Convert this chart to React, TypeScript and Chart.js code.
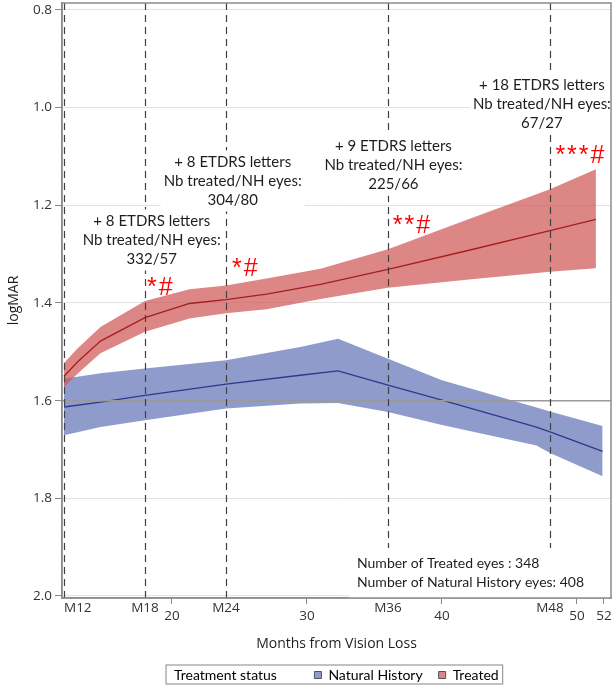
import React, { useEffect, useRef } from 'react';
import Chart from 'chart.js/auto';

// logMAR over months from vision loss
const TREATED_MONTHS = [12, 13, 14.7, 18, 21.3, 24, 27, 31, 36, 42, 48, 51.4];
const TREATED_MEAN = [1.55, 1.521, 1.478, 1.43, 1.401, 1.393, 1.382, 1.362, 1.331, 1.292, 1.252, 1.229];
const TREATED_CI_LOW = [1.523, 1.493, 1.449, 1.396, 1.372, 1.364, 1.35, 1.33, 1.29, 1.228, 1.167, 1.126];
const TREATED_CI_HIGH = [1.572, 1.545, 1.503, 1.459, 1.432, 1.421, 1.413, 1.392, 1.369, 1.352, 1.336, 1.329];

const NH_MONTHS = [12, 14.7, 18, 24, 29.5, 32.3, 36, 40, 47, 48, 51.9];
const NH_MEAN = [1.613, 1.603, 1.589, 1.566, 1.548, 1.539, 1.568, 1.599, 1.654, 1.664, 1.704];
const NH_CI_LOW = [1.555, 1.544, 1.534, 1.517, 1.49, 1.473, 1.514, 1.558, 1.614, 1.622, 1.652];
const NH_CI_HIGH = [1.671, 1.654, 1.64, 1.616, 1.606, 1.605, 1.623, 1.65, 1.692, 1.707, 1.755];

const VISIT_MONTHS = [12, 18, 24, 36, 48];
const VISIT_LABELS = ['M12', 'M18', 'M24', 'M36', 'M48'];
const X_TICKS = [20, 30, 40, 50, 52];
const Y_TICKS = [0.8, 1.0, 1.2, 1.4, 1.6, 1.8, 2.0];
const REFERENCE_LOGMAR = 1.6;

const LETTER_GAINS = ['+ 8 ETDRS letters', '+ 8 ETDRS letters', '+ 9 ETDRS letters', '+ 18 ETDRS letters'];
const EYE_COUNTS = ['332/57', '304/80', '225/66', '67/27'];
const SIGNIFICANCE = ['*#', '*#', '**#', '***#'];
const TOTAL_LINES = ['Number of Treated eyes : 348', 'Number of Natural History eyes: 408'];
const SERIES_NAMES = ['Natural History', 'Treated'];
const LEGEND_TITLE = 'Treatment status';

// where the notes sit, in axis units
const NOTE_ANCHORS = [
  { month: 18.5, logmar: 1.271 },
  { month: 24.5, logmar: 1.15 },
  { month: 36.4, logmar: 1.118 },
  { month: 47.4, logmar: 0.993 },
];
const STAR_ANCHORS = [
  { month: 18.15, logmar: 1.384 },
  { month: 24.44, logmar: 1.345 },
  { month: 36.35, logmar: 1.257 },
  { month: 48.4, logmar: 1.113 },
];

const NH_FILL = 'rgba(104, 122, 186, 0.75)';
const NH_LINE = '#2b3b8c';
const TREATED_FILL = 'rgba(206, 82, 82, 0.7)';
const TREATED_LINE = '#a31f1f';
const AXIS_FONT = '"Open Sans"';
const LEGEND_BOX = 7;
const LEGEND_FONT = 14;

const pts = (xs: number[], ys: number[]) => xs.map((x, i) => ({ x, y: ys[i] }));

const overlay = {
  id: 'overlay',
  afterDatasetsDraw(chart: any) {
    const { ctx, chartArea: area, scales } = chart;
    const xs = scales.x;
    const ys = scales.y;

    ctx.save();
    ctx.beginPath();
    ctx.rect(area.left, area.top, area.width, area.height);
    ctx.clip();

    const ry = ys.getPixelForValue(REFERENCE_LOGMAR);
    ctx.strokeStyle = '#9a9a9a';
    ctx.lineWidth = 1.5;
    ctx.beginPath();
    ctx.moveTo(area.left, ry);
    ctx.lineTo(area.right, ry);
    ctx.stroke();

    ctx.strokeStyle = '#404040';
    ctx.lineWidth = 1.2;
    ctx.setLineDash([7, 5]);
    VISIT_MONTHS.forEach((m) => {
      const px = Math.round(xs.getPixelForValue(m)) + 0.5;
      ctx.beginPath();
      ctx.moveTo(px, area.top);
      ctx.lineTo(px, area.bottom);
      ctx.stroke();
    });
    ctx.setLineDash([]);

    // notes above each visit, on a white patch
    ctx.font = '15px Lato';
    ctx.textAlign = 'center';
    ctx.textBaseline = 'middle';
    const lh = 19;
    NOTE_ANCHORS.forEach((a, i) => {
      const lines = [LETTER_GAINS[i], 'Nb treated/NH eyes:', EYE_COUNTS[i]];
      const cx = xs.getPixelForValue(a.month);
      const cy = ys.getPixelForValue(a.logmar);
      const w = Math.max(...lines.map((t) => ctx.measureText(t).width)) + 6;
      ctx.fillStyle = '#fff';
      ctx.fillRect(cx - w / 2, cy - lh * 1.5 - 2, w, lh * 3 + 4);
      ctx.fillStyle = '#1e1e1e';
      lines.forEach((t, k) => ctx.fillText(t, cx, cy + (k - 1) * lh));
    });

    ctx.font = '25px "Liberation Sans"';
    ctx.textAlign = 'left';
    ctx.textBaseline = 'alphabetic';
    ctx.fillStyle = '#ff0000';
    ctx.letterSpacing = '2px';
    STAR_ANCHORS.forEach((a, i) => {
      ctx.fillText(SIGNIFICANCE[i], xs.getPixelForValue(a.month), ys.getPixelForValue(a.logmar));
    });
    ctx.letterSpacing = '0px';

    // eye totals, bottom right
    ctx.font = '14px Lato';
    ctx.fillStyle = '#fff';
    ctx.fillRect(area.right - 262, area.bottom - 50, 262, 50);
    ctx.fillStyle = '#1e1e1e';
    ctx.textBaseline = 'middle';
    TOTAL_LINES.forEach((t, k) => ctx.fillText(t, area.right - 254, area.bottom - 35 + k * 19));
    ctx.restore();

    ctx.save();
    ctx.strokeStyle = '#8c8c8c';
    ctx.lineWidth = 1.5;
    ctx.strokeRect(area.left, area.top, area.width, area.height);
    ctx.font = `13.5px ${AXIS_FONT}`;
    ctx.fillStyle = '#333';
    ctx.textBaseline = 'middle';
    VISIT_MONTHS.forEach((m, i) => {
      const px = xs.getPixelForValue(m);
      const w = ctx.measureText(VISIT_LABELS[i]).width;
      ctx.textAlign = px - w / 2 < area.left ? 'left' : 'center';
      ctx.fillText(VISIT_LABELS[i], px, area.bottom + 10);
    });
    ctx.restore();
  },
  afterDraw(chart: any) {
    const boxes = chart.legend?.legendHitBoxes;
    if (!boxes || !boxes.length) return;
    const { ctx } = chart;
    const first = boxes[0];
    const last = boxes[boxes.length - 1];
    const textOffset = LEGEND_BOX + LEGEND_FONT / 2;
    ctx.save();
    ctx.font = `${LEGEND_FONT}px Lato`;
    const left = first.left + textOffset - 8;
    const right = last.left + textOffset + ctx.measureText(SERIES_NAMES[1]).width + 4;
    const cy = first.top + first.height / 2;
    ctx.strokeStyle = '#9a9a9a';
    ctx.lineWidth = 1.2;
    ctx.strokeRect(left, cy - 10, right - left, 19);
    ctx.restore();
  },
};

const App: React.FC = () => {
  const canvasRef = useRef<HTMLCanvasElement>(null);
  const chartInstance = useRef<Chart | null>(null);

  useEffect(() => {
    if (!canvasRef.current) return;
    if (chartInstance.current) chartInstance.current.destroy();

    const band = { borderWidth: 0, pointRadius: 0, tension: 0 };
    chartInstance.current = new Chart(canvasRef.current, {
      type: 'line',
      data: {
        datasets: [
          { label: 'Treated', data: pts(TREATED_MONTHS, TREATED_MEAN), borderColor: TREATED_LINE, borderWidth: 1.3, pointRadius: 0, fill: false },
          { label: 'Natural History', data: pts(NH_MONTHS, NH_MEAN), borderColor: NH_LINE, borderWidth: 1.3, pointRadius: 0, fill: false },
          { label: 'Treated CI low', data: pts(TREATED_MONTHS, TREATED_CI_LOW), backgroundColor: TREATED_FILL, fill: '+1', ...band },
          { label: 'Treated CI high', data: pts(TREATED_MONTHS, TREATED_CI_HIGH), fill: false, ...band },
          { label: 'NH CI low', data: pts(NH_MONTHS, NH_CI_LOW), backgroundColor: NH_FILL, fill: '+1', ...band },
          { label: 'NH CI high', data: pts(NH_MONTHS, NH_CI_HIGH), fill: false, ...band },
        ],
      },
      options: {
        responsive: true,
        maintainAspectRatio: false,
        animation: false,
        layout: { padding: { left: 0, right: 2, top: 3, bottom: -5 } },
        plugins: {
          tooltip: { enabled: false },
          legend: {
            position: 'bottom',
            fullSize: false,
            labels: {
              boxWidth: LEGEND_BOX,
              boxHeight: LEGEND_BOX,
              padding: 16,
              color: '#1e1e1e',
              font: { family: 'Lato', size: LEGEND_FONT },
              generateLabels: () => [
                { text: LEGEND_TITLE + '      ', fillStyle: 'rgba(0,0,0,0)', strokeStyle: 'rgba(0,0,0,0)', lineWidth: 0, hidden: false },
                { text: SERIES_NAMES[0], fillStyle: NH_FILL, strokeStyle: '#555', lineWidth: 1, hidden: false },
                { text: SERIES_NAMES[1] + '    ', fillStyle: TREATED_FILL, strokeStyle: '#555', lineWidth: 1, hidden: false },
              ],
            },
          },
        },
        scales: {
          x: {
            type: 'linear',
            min: 11.852,
            max: 52.52,
            afterBuildTicks: (s: any) => { s.ticks = X_TICKS.map((v) => ({ value: v })); },
            afterFit: (s: any) => { s.height = 54; s.paddingLeft = 0; s.paddingRight = 0; },
            grid: { drawOnChartArea: false, drawTicks: true, tickLength: 6, tickColor: '#888' },
            border: { color: '#8c8c8c', width: 1.5 },
            ticks: { color: '#333', padding: 4, maxRotation: 0, font: { family: AXIS_FONT, size: 13.5 } },
            title: { display: true, text: 'Months from Vision Loss', color: '#1e1e1e', padding: { top: 0, bottom: 0 }, font: { family: AXIS_FONT, size: 14 } },
          },
          y: {
            type: 'linear',
            reverse: true,
            min: 0.7857,
            max: 2.0041,
            afterBuildTicks: (s: any) => { s.ticks = Y_TICKS.map((v) => ({ value: v })); },
            afterFit: (s: any) => { s.width = 62; s.paddingTop = 0; s.paddingBottom = 0; },
            grid: { color: '#e2e2e2', lineWidth: 1, tickLength: 7, tickColor: '#888' },
            border: { color: '#8c8c8c', width: 1.5 },
            ticks: { color: '#333', padding: 3, callback: (v: any) => Number(v).toFixed(1), font: { family: AXIS_FONT, size: 13.5 } },
            title: { display: true, text: 'logMAR', color: '#1e1e1e', padding: { top: 6, bottom: 0 }, font: { family: AXIS_FONT, size: 14 } },
          },
        },
      },
      plugins: [overlay],
    });

    return () => {
      if (chartInstance.current) {
        chartInstance.current.destroy();
        chartInstance.current = null;
      }
    };
  }, []);

  return (
    <div style={{ position: 'absolute', left: 0, top: 0, width: 613, height: 687, background: '#fff' }}>
      <canvas ref={canvasRef}></canvas>
    </div>
  );
};

export default App;
